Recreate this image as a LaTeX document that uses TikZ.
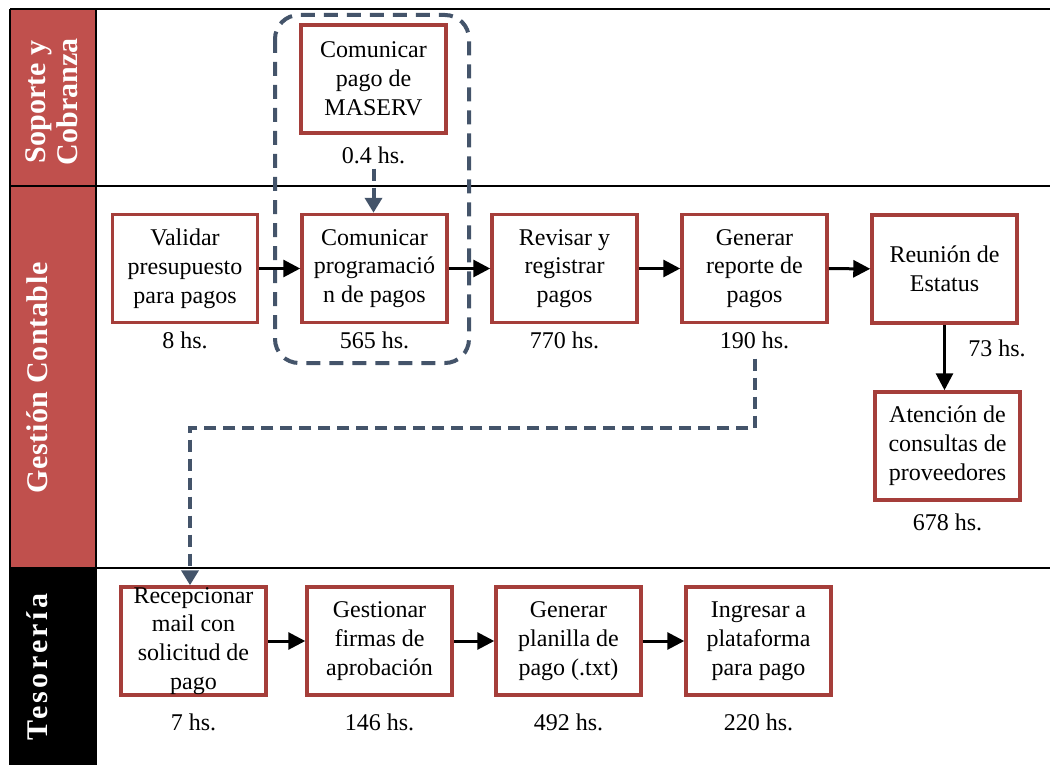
\documentclass[tikz,border=0pt]{standalone}
\usepackage{fontspec}
\setmainfont{Liberation Serif}
\usetikzlibrary{arrows.meta}
\definecolor{lanered}{RGB}{192,80,77}
\definecolor{boxred}{RGB}{165,62,58}
\definecolor{slate}{RGB}{68,84,106}
\begin{document}
\begin{tikzpicture}[x=1pt,y=-1pt,
  proc/.style={draw=boxred, line width=3.5pt, fill=white, minimum width=145pt,
    minimum height=108pt, inner xsep=2pt, inner ysep=0pt, align=center,
    font=\fontsize{24}{28.8}\selectfont},
  hrs/.style={font=\fontsize{24}{28.8}\selectfont, inner sep=0pt},
  lanehead/.style={rotate=90, text=white, align=center, inner sep=0pt,
    font=\fontsize{30}{32}\selectfont\bfseries\addfontfeature{LetterSpace=#1}},
  lanehead/.default=0,
  flow/.style={line width=3pt, -{Triangle[length=17pt,width=17pt]}},
  link/.style={draw=slate, line width=4pt, dash pattern=on 12pt off 7pt,
    -{Triangle[length=15pt,width=17pt]}, color=slate},
  group/.style={draw=slate, line width=4pt, dash pattern=on 14pt off 9pt,
    rounded corners=24pt},
  frame/.style={line width=1.5pt}]

\useasboundingbox (0,0) rectangle (1050,765);

% lane headers
\fill[lanered] (10,9) rectangle (96,186);
\fill[lanered] (10,186) rectangle (96,568);
\fill[black] (10,568) rectangle (96,765);

% lane borders
\draw[frame] (10,9) -- (1050,9);
\draw[frame] (10,186) -- (1050,186);
\draw[frame] (10,568) -- (1050,568);
\draw[frame] (10,9) -- (10,765);
\draw[frame] (96,9) -- (96,765);

\node[lanehead] (lane1) at (52,102) {Soporte y\\Cobranza};
\node[lanehead=2] (lane2) at (37,378) {Gestión Contable};
\node[lanehead=11] (lane3) at (37,667) {Tesorería};

% grouped activities
\draw[group] (275,15) rectangle (469,363);

% Soporte y Cobranza
\node[proc] (maserv) at (373.5,79) {Comunicar\\pago de\\MASERV};
\node[hrs] (t0) at (373.5,155) {0.4 hs.};

% Gestion Contable
\node[proc] (validar) at (185,268.5) {Validar\\presupuesto\\para pagos};
\node[proc] (comprog) at (374.5,268.5) {Comunicar\\programació\\n de pagos};
\node[proc] (revisar) at (564.5,268.5) {Revisar y\\registrar\\pagos};
\node[proc] (genrep) at (754.5,268.5) {Generar\\reporte de\\pagos};
\node[proc] (reunion) at (944.5,269) {Reunión de\\Estatus};
\node[proc] (atencion) at (947.5,446) {Atención de\\consultas de\\proveedores};

\node[hrs] (t8) at (185,340) {8 hs.};
\node[hrs] (t565) at (374.5,340) {565 hs.};
\node[hrs] (t770) at (564.5,340) {770 hs.};
\node[hrs] (t190) at (754.5,340) {190 hs.};
\node[hrs] (t73) at (997,348) {73 hs.};
\node[hrs] (t678) at (947.5,522) {678 hs.};

% Tesoreria
\node[proc] (recep) at (193.5,641) {Recepcionar\\mail con\\solicitud de\\pago};
\node[proc] (firmas) at (379.5,641) {Gestionar\\firmas de\\aprobación};
\node[proc] (planilla) at (568.5,641) {Generar\\planilla de\\pago (.txt)};
\node[proc] (ingresar) at (758.5,641) {Ingresar a\\plataforma\\para pago};

\node[hrs] (t7) at (193.5,722) {7 hs.};
\node[hrs] (t146) at (379.5,722) {146 hs.};
\node[hrs] (t492) at (568.5,722) {492 hs.};
\node[hrs] (t220) at (758.5,722) {220 hs.};

% solid flow
\draw[flow] (validar) -- (comprog);
\draw[flow] (comprog) -- (revisar);
\draw[flow] (revisar) -- (genrep);
\draw[flow] (genrep) -- (reunion);
\draw[flow] (reunion.south) -- (reunion.south |- atencion.north);
\draw[flow] (recep) -- (firmas);
\draw[flow] (firmas) -- (planilla);
\draw[flow] (planilla) -- (ingresar);

% dashed links
\draw[link, shorten <=5pt] (t0.south) -- (t0.south |- comprog.north);
\coordinate (c1) at (755,428);
\coordinate (c2) at (190,428);
\draw[link, shorten <=10pt] (t190.south -| c1) -- (c1) -- (c2) -- (c2 |- recep.north);

\end{tikzpicture}
\end{document}
